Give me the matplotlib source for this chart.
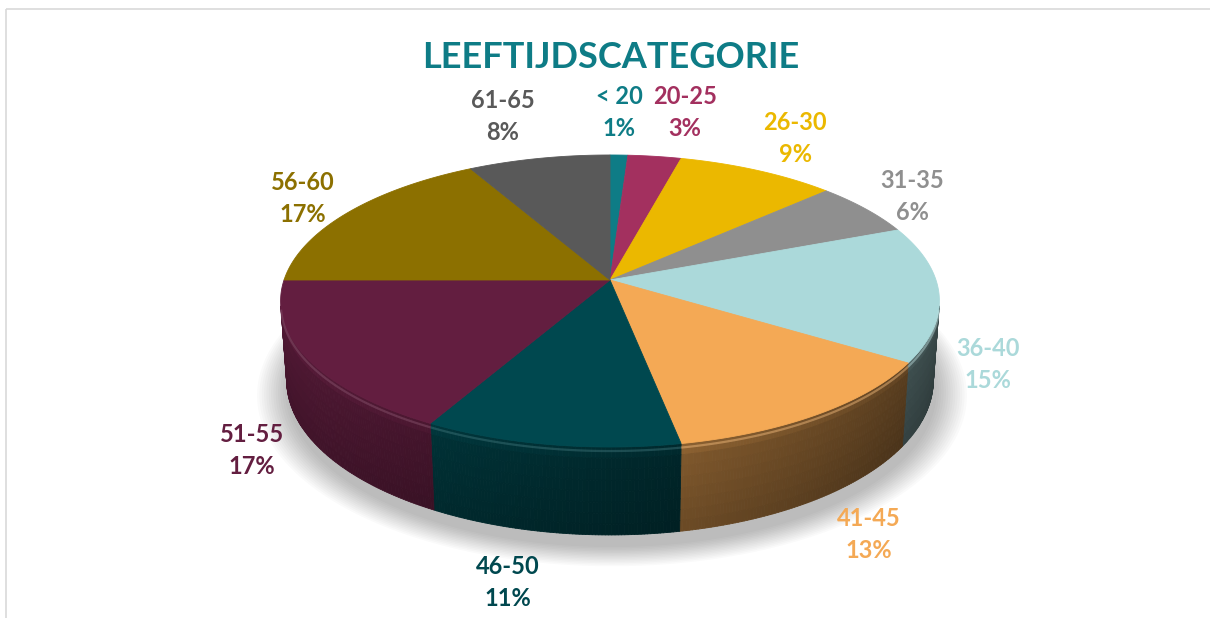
import numpy as np
import matplotlib
matplotlib.use("Agg")
import matplotlib.pyplot as plt
from matplotlib.collections import PolyCollection
from matplotlib.patches import Polygon, Rectangle
import matplotlib.colors as mcolors

# ---------------- data ----------------
categories = ["< 20", "20-25", "26-30", "31-35", "36-40",
              "41-45", "46-50", "51-55", "56-60", "61-65"]
percentages = [1, 3, 9, 6, 15, 13, 11, 17, 17, 8]
colors = ["#0E7C86", "#A3305F", "#EBB800", "#8F8F8F", "#ABD9DA",
          "#F4A955", "#00484F", "#631E40", "#8C7000", "#595959"]
title = "LEEFTIJDSCATEGORIE"
title_color = "#0E7C86"

# ---------------- layout ----------------
W, H = 1210, 618
APEX = (610.0, 280.0)          # screen position of the pie centre
FOC, DIST, PHI = 2075.0, 6.27, np.radians(25.6)
XSCALE = 0.985
DEPTH = 0.268
label_pos = [(619, 113), (685, 113), (795, 138), (912, 196), (988, 365),
             (869, 534), (508, 582), (252, 451), (303, 198), (503, 117)]
FONT = ["Lato", "DejaVu Sans"]

cphi, sphi = np.cos(PHI), np.sin(PHI)


def proj(x, y, z):
    x = np.asarray(x, float); y = np.asarray(y, float); z = np.asarray(z, float)
    den = DIST + y * cphi - z * sphi
    u = XSCALE * FOC * x / den
    v = FOC * (y * sphi + z * cphi) / den
    return APEX[0] + u, APEX[1] - v


def shade(c, f):
    r = np.array(mcolors.to_rgb(c)) * f
    return tuple(np.clip(r, 0, 1))


def tint(c, w):
    r = np.array(mcolors.to_rgb(c))
    return tuple(np.clip(r * (1 - w) + w, 0, 1))


fig = plt.figure(figsize=(W / 100, H / 100), dpi=100)
ax = fig.add_axes([0, 0, 1, 1])
ax.set_xlim(0, W)
ax.set_ylim(H, 0)
ax.axis("off")

vals = np.array(percentages, float)
cum = np.concatenate([[0], np.cumsum(vals)]) / vals.sum()
thetas = 2 * np.pi * cum

# ---- soft shadow ----
tt = np.linspace(0, 2 * np.pi, 361)
for k in range(14):
    s = 1.0 + 0.007 * k
    X, Y = proj(s * np.sin(tt), s * np.cos(tt) - 0.03, -DEPTH)
    ax.add_patch(Polygon(np.column_stack([X + 2, Y + 6]), closed=True,
                         facecolor="black", edgecolor="none", alpha=0.02, zorder=1))

# ---- side walls ----
a_vis = np.arccos(-1.0 / (DIST * cphi))
b_vis = 2 * np.pi - a_vis
polys, fcols = [], []
NZ = 8
for i in range(len(vals)):
    t0, t1 = max(thetas[i], a_vis), min(thetas[i + 1], b_vis)
    if t1 <= t0:
        continue
    n = max(2, int(np.degrees(t1 - t0) / 0.5))
    ts = np.linspace(t0, t1, n + 1)
    for k in range(n):
        ta, tb = ts[k], ts[k + 1]
        tm = 0.5 * (ta + tb)
        base = 0.58 - 0.25 * np.sin(tm)
        for j in range(NZ):
            za, zb = -DEPTH * j / NZ, -DEPTH * (j + 1) / NZ
            xa, ya = np.sin([ta, tb, tb, ta]), np.cos([ta, tb, tb, ta])
            X, Y = proj(xa, ya, [za, za, zb, zb])
            zf = (j + 0.5) / NZ
            f = base * (1.0 - 0.18 * zf)
            if j == 0:
                f *= 1.08
            polys.append(np.column_stack([X, Y]))
            fcols.append(shade(colors[i], f))
pc = PolyCollection(polys, facecolors=fcols, edgecolors=fcols, linewidths=0.6, zorder=2)
ax.add_collection(pc)

# ---- top faces ----
for i in range(len(vals)):
    n = max(2, int(np.degrees(thetas[i + 1] - thetas[i]) / 0.5))
    ts = np.linspace(thetas[i], thetas[i + 1], n + 1)
    X, Y = proj(np.sin(ts), np.cos(ts), np.zeros_like(ts))
    pts = np.vstack([[APEX[0], APEX[1]], np.column_stack([X, Y])])
    ax.add_patch(Polygon(pts, closed=True, facecolor=colors[i],
                         edgecolor=colors[i], linewidth=0.6, zorder=3))
    # bevel highlight on the visible front edge
    t0, t1 = max(thetas[i], a_vis), min(thetas[i + 1], b_vis)
    if t1 > t0:
        tr = np.linspace(t0, t1, 60)
        Xr, Yr = proj(np.sin(tr), np.cos(tr), np.full_like(tr, -0.012))
        ax.plot(Xr, Yr, color=tint(colors[i], 0.25), lw=1.6, alpha=0.45,
                zorder=4, solid_capstyle="butt")

# ---- labels ----
for i, (cat, pct) in enumerate(zip(categories, percentages)):
    lx, ly = label_pos[i]
    ax.text(lx, ly - 16, cat, ha="center", va="center", color=colors[i],
            fontsize=17, fontweight="bold", family=FONT, zorder=6)
    ax.text(lx, ly + 16, f"{pct}%", ha="center", va="center", color=colors[i],
            fontsize=17, fontweight="bold", family=FONT, zorder=6)

ax.text(611, 57, title, ha="center", va="center", color=title_color,
        fontsize=26, fontweight="bold", family=FONT, zorder=6)

# chart-area border
ax.add_patch(Rectangle((5.5, 8.5), W + 20, H + 20, fill=False,
                       edgecolor="#D9D9D9", linewidth=1.2, zorder=0))

fig.savefig("out.png", dpi=100)
